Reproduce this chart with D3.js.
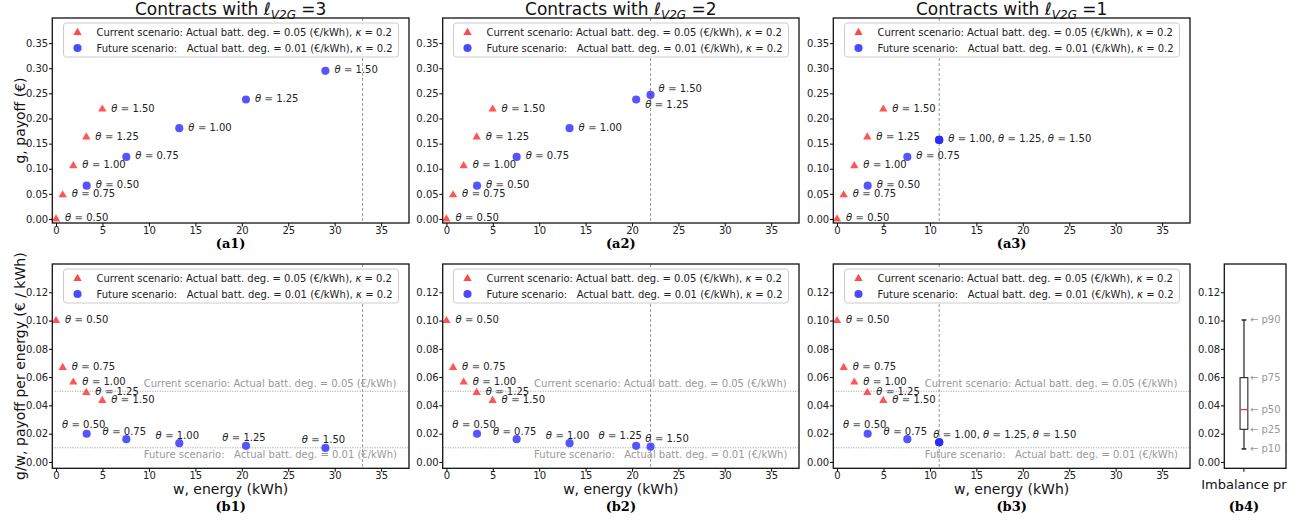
<!DOCTYPE html>
<html>
<head>
<meta charset="utf-8">
<script src="https://cdn.jsdelivr.net/npm/d3@7"></script>
<style>
  body { margin: 0; background: #fff; }
  text { font-family: "DejaVu Sans", sans-serif; }
</style>
</head>
<body>
<svg id="chart" width="1304" height="521"></svg>
<script>
// ---- data ----
const thetas = ["0.50", "0.75", "1.00", "1.25", "1.50"]
const ellV2G = [3, 2, 1]
const wMax = [33, 22, 11] // dashed vertical line per contract
const degCurrent = 0.05
const degFuture = 0.01

const xTicks = [0, 5, 10, 15, 20, 25, 30, 35]
const gTicks = [0, 0.05, 0.1, 0.15, 0.2, 0.25, 0.3, 0.35]
const gwTicks = [0, 0.02, 0.04, 0.06, 0.08, 0.1, 0.12]

// current scenario (same for every contract)
const currentW = [0, 0.72, 1.86, 3.26, 4.98]
const currentG = [0, 0.0478, 0.1056, 0.163, 0.2185]
const currentGW = [0.0999, 0.0667, 0.0564, 0.049, 0.0434]

// future scenario, one row per contract (l = 3, 2, 1)
const futureW = [
  [3.3, 7.57, 13.27, 20.45, 29.0],
  [3.3, 7.57, 13.27, 20.45, 22.0],
  [3.3, 7.57, 11.0, 11.0, 11.0],
]
const futureG = [
  [0.0663, 0.1235, 0.1807, 0.2377, 0.2948],
  [0.0663, 0.1235, 0.1807, 0.2377, 0.247],
  [0.0663, 0.1235, 0.1574, 0.1574, 0.1574],
]
const futureGW = [
  [0.0199, 0.0161, 0.0133, 0.0114, 0.0099],
  [0.0199, 0.0161, 0.0133, 0.0114, 0.0108],
  [0.0199, 0.0161, 0.0139, 0.0139, 0.0139],
]

// imbalance price percentiles (b4)
const pctLabels = ["p10", "p25", "p50", "p75", "p90"]
const pctValues = [0.0092, 0.0231, 0.037, 0.0596, 0.1004]

// ---- layout ----
const svg = d3.select("#chart")
const cols = [[52.3, 409], [442.7, 799], [833.3, 1190]]
const topRow = [18, 223]
const botRow = [264, 468.3]
const xDomain = [-0.4, 38]
const RED = "#ff2a2a"
const BLUE = "#2a2aff"
const GREY = "#999"
const TRI = 30, CIRC = 52

const triangle = d3.symbol().type(d3.symbolTriangle)
const circle = d3.symbol().type(d3.symbolCircle)

function makeAxes(x0, x1, y0, y1, xDom, yDom, yTicks, yFmt) {
  const x = d3.scaleLinear().domain(xDom).range([x0, x1])
  const y = d3.scaleLinear().domain(yDom).range([y1, y0])
  const g = svg.append("g")
  const ay = g.append("g").attr("transform", `translate(${x0},0)`)
    .call(d3.axisLeft(y).tickValues(yTicks).tickFormat(yFmt).tickSize(3.3).tickPadding(0.8))
  ay.select(".domain").remove()
  ay.selectAll("text").attr("font-size", 10).attr("fill", "#222").style("font-family", "DejaVu Sans")
  return { g, x, y, x0, x1, y0, y1 }
}

function xAxis(ax, ticks) {
  const a = ax.g.append("g").attr("transform", `translate(0,${ax.y1})`)
    .call(d3.axisBottom(ax.x).tickValues(ticks).tickFormat(d3.format("d")).tickSize(3.5).tickPadding(0.5))
  a.select(".domain").remove()
  a.selectAll("text").attr("font-size", 10).attr("fill", "#222").style("font-family", "DejaVu Sans")
}

function frame(ax) {
  ax.g.append("rect")
    .attr("x", ax.x0).attr("y", ax.y0)
    .attr("width", ax.x1 - ax.x0).attr("height", ax.y1 - ax.y0)
    .attr("fill", "none").attr("stroke", "#111").attr("stroke-width", 1.3)
}

function thetaText(sel, parts) {
  parts.forEach((p, i) => {
    if (i) sel.append("tspan").text(", ")
    sel.append("tspan").attr("font-style", "italic").text("θ")
    sel.append("tspan").attr("fill", "#777").attr("font-weight", "bold").text(" =")
    sel.append("tspan").text(" " + p)
  })
}

function legend(ax) {
  const w = 335, h = 34
  const lx = ax.x1 - 10.5 - w
  const ly = ax.y0 + 5
  const lg = ax.g.append("g")
  lg.append("rect").attr("x", lx).attr("y", ly).attr("width", w).attr("height", h)
    .attr("rx", 3).attr("fill", "#fff").attr("fill-opacity", 0.85)
    .attr("stroke", "#ccc").attr("stroke-width", 1)
  const items = [
    { sym: triangle.size(TRI)(), c: RED, txt: `Current scenario: Actual batt. deg. = ${degCurrent.toFixed(2)} (€/kWh), ` },
    { sym: circle.size(CIRC)(), c: BLUE, txt: `Future scenario:   Actual batt. deg. = ${degFuture.toFixed(2)} (€/kWh), ` },
  ]
  items.forEach((it, i) => {
    const cy = ly + 9.5 + i * 15.5
    lg.append("path").attr("d", it.sym)
      .attr("transform", `translate(${lx + 14},${cy})`).attr("fill", it.c).attr("fill-opacity", 0.85)
    const t = lg.append("text").attr("x", lx + 33).attr("y", cy + 3.5)
      .attr("font-size", 10).attr("fill", "#222").style("white-space", "pre")
    t.append("tspan").text(it.txt)
    t.append("tspan").attr("font-style", "italic").text("κ")
    t.append("tspan").text(" = 0.2")
  })
}

// label placement: default rules plus a few hand-adjusted spots
const labelOverride = {
  "top-1-blue-3": { anchor: "start", dx: 9, dy: 8.5 },
  "top-1-blue-4": { anchor: "start", dx: 8, dy: -2.8 },
  "bot-0-blue-0": { anchor: "middle", dx: -3, dy: -6.2 },
  "bot-1-blue-0": { anchor: "middle", dx: -3, dy: -6.2 },
  "bot-2-blue-0": { anchor: "middle", dx: -3, dy: -6.2 },
  "bot-1-blue-3": { anchor: "middle", dx: -16, dy: -6.8 },
  "bot-1-blue-4": { anchor: "middle", dx: 16.5, dy: -4.5 },
  "bot-2-blue-2": { anchor: "start", dx: -6, dy: -4.5 },
}

function scatter(ax, ws, vs, symPath, color, key, defaultPos) {
  ax.g.append("g").selectAll("path").data(ws).join("path")
    .attr("d", symPath)
    .attr("transform", (d, i) => `translate(${ax.x(d)},${ax.y(vs[i])})`)
    .attr("fill", color).attr("fill-opacity", 0.8)

  // group coincident points into one label
  const groups = []
  ws.forEach((w, i) => {
    const last = groups[groups.length - 1]
    if (last && last.w === w && last.v === vs[i]) last.parts.push(thetas[i])
    else groups.push({ w, v: vs[i], i, parts: [thetas[i]] })
  })
  groups.forEach(gr => {
    const pos = labelOverride[`${key}-${gr.i}`] || defaultPos
    const t = ax.g.append("text")
      .attr("x", ax.x(gr.w) + pos.dx).attr("y", ax.y(gr.v) + pos.dy)
      .attr("text-anchor", pos.anchor).attr("font-size", 10).attr("fill", "#222")
    thetaText(t, gr.parts)
  })
}

const right = { anchor: "start", dx: 9, dy: 2.5 }
const above = { anchor: "middle", dx: -2, dy: -4.5 }
const subFont = "DejaVu Serif"
const triPath = triangle.size(TRI)()
const circPath = circle.size(CIRC)()

cols.forEach(([x0, x1], c) => {
  // ---- top row: payoff ----
  const a = makeAxes(x0, x1, topRow[0], topRow[1], xDomain, [-0.008, 0.4], gTicks, d3.format(".2f"))
  xAxis(a, xTicks)
  a.g.append("line").attr("x1", a.x(wMax[c])).attr("x2", a.x(wMax[c]))
    .attr("y1", a.y0).attr("y2", a.y1).attr("stroke", GREY).attr("stroke-width", 1).attr("stroke-dasharray", "3,2")
  scatter(a, currentW, currentG, triPath, RED, `top-${c}-red`, right)
  scatter(a, futureW[c], futureG[c], circPath, BLUE, `top-${c}-blue`, right)
  legend(a)
  frame(a)

  const title = svg.append("text").attr("x", (x0 + x1) / 2).attr("y", 15)
    .attr("text-anchor", "middle").attr("font-size", 17).attr("fill", "#111")
  title.append("tspan").text("Contracts with ")
  title.append("tspan").attr("font-style", "italic").text("ℓ")
  title.append("tspan").attr("font-style", "italic").attr("font-size", 12).attr("dy", 4).text("V2G")
  title.append("tspan").attr("dy", -4).text(" =" + ellV2G[c])

  svg.append("text").attr("x", (x0 + x1) / 2).attr("y", 248).attr("text-anchor", "middle")
    .attr("font-size", 13).attr("font-weight", "bold").style("font-family", subFont).text(`(a${c + 1})`)

  // ---- bottom row: payoff per energy ----
  const b = makeAxes(x0, x1, botRow[0], botRow[1], xDomain, [-0.0045, 0.14], gwTicks, d3.format(".2f"))
  xAxis(b, xTicks)
  b.g.append("line").attr("x1", b.x(wMax[c])).attr("x2", b.x(wMax[c]))
    .attr("y1", b.y0).attr("y2", b.y1).attr("stroke", GREY).attr("stroke-width", 1).attr("stroke-dasharray", "3,2")
  ;[degCurrent, degFuture].forEach((d, k) => {
    b.g.append("line").attr("x1", b.x0).attr("x2", b.x1).attr("y1", b.y(d)).attr("y2", b.y(d))
      .attr("stroke", GREY).attr("stroke-width", 1).attr("stroke-dasharray", "1,1.5")
    b.g.append("text").attr("x", b.x(9.45)).attr("y", b.y(d) + (k ? 10.5 : -4))
      .attr("font-size", 10).attr("fill", GREY).style("white-space", "pre")
      .text(k ? `Future scenario:   Actual batt. deg. = ${d.toFixed(2)} (€/kWh)`
              : `Current scenario: Actual batt. deg. = ${d.toFixed(2)} (€/kWh)`)
  })
  scatter(b, currentW, currentGW, triPath, RED, `bot-${c}-red`, right)
  scatter(b, futureW[c], futureGW[c], circPath, BLUE, `bot-${c}-blue`, above)
  legend(b)
  frame(b)

  svg.append("text").attr("x", (x0 + x1) / 2).attr("y", 493.5).attr("text-anchor", "middle")
    .attr("font-size", 14).attr("fill", "#111").text("w, energy (kWh)")
  svg.append("text").attr("x", (x0 + x1) / 2).attr("y", 511).attr("text-anchor", "middle")
    .attr("font-size", 13).attr("font-weight", "bold").style("font-family", subFont).text(`(b${c + 1})`)
})

// y labels
svg.append("text").attr("transform", `translate(25,${(topRow[0] + topRow[1]) / 2}) rotate(-90)`)
  .attr("text-anchor", "middle").attr("font-size", 14).attr("fill", "#111").text("g, payoff (€)")
svg.append("text").attr("transform", `translate(25,${(botRow[0] + botRow[1]) / 2}) rotate(-90)`)
  .attr("text-anchor", "middle").attr("font-size", 14).attr("fill", "#111").text("g/w, payoff per energy (€ / kWh)")

// ---- b4: imbalance price box plot ----
const bx = makeAxes(1224.3, 1286, botRow[0], botRow[1], [0.5, 2.07], [-0.0045, 0.14], gwTicks, d3.format(".2f"))
const cx = bx.x(1)
bx.g.append("line").attr("x1", cx).attr("x2", cx).attr("y1", bx.y1).attr("y2", bx.y1 + 3.5).attr("stroke", "#000")
bx.g.append("line").attr("x1", cx).attr("x2", cx)
  .attr("y1", bx.y(pctValues[0])).attr("y2", bx.y(pctValues[4])).attr("stroke", "#777").attr("stroke-width", 2)
;[pctValues[0], pctValues[4]].forEach(v => {
  bx.g.append("line").attr("x1", cx - 2.4).attr("x2", cx + 2.4).attr("y1", bx.y(v)).attr("y2", bx.y(v))
    .attr("stroke", "#222").attr("stroke-width", 1.5)
})
bx.g.append("rect").attr("x", cx - 3.9).attr("width", 7.8)
  .attr("y", bx.y(pctValues[3])).attr("height", bx.y(pctValues[1]) - bx.y(pctValues[3]))
  .attr("fill", "#fff").attr("stroke", "#111").attr("stroke-width", 1)
bx.g.append("line").attr("x1", cx - 3.9).attr("x2", cx + 3.9)
  .attr("y1", bx.y(pctValues[2])).attr("y2", bx.y(pctValues[2])).attr("stroke", "#e33").attr("stroke-width", 1.2)
bx.g.selectAll(".pct").data(pctLabels).join("text")
  .attr("x", cx + 6).attr("y", (d, i) => bx.y(pctValues[i]) + 3.5)
  .attr("font-size", 10).attr("fill", GREY).text(d => "← " + d)
frame(bx)
svg.append("text").attr("x", cx).attr("y", 489).attr("text-anchor", "middle")
  .attr("font-size", 13).attr("fill", "#111").text("Imbalance pr")
svg.append("text").attr("x", cx).attr("y", 511).attr("text-anchor", "middle")
  .attr("font-size", 13).attr("font-weight", "bold").style("font-family", subFont).text("(b4)")
</script>
</body>
</html>
